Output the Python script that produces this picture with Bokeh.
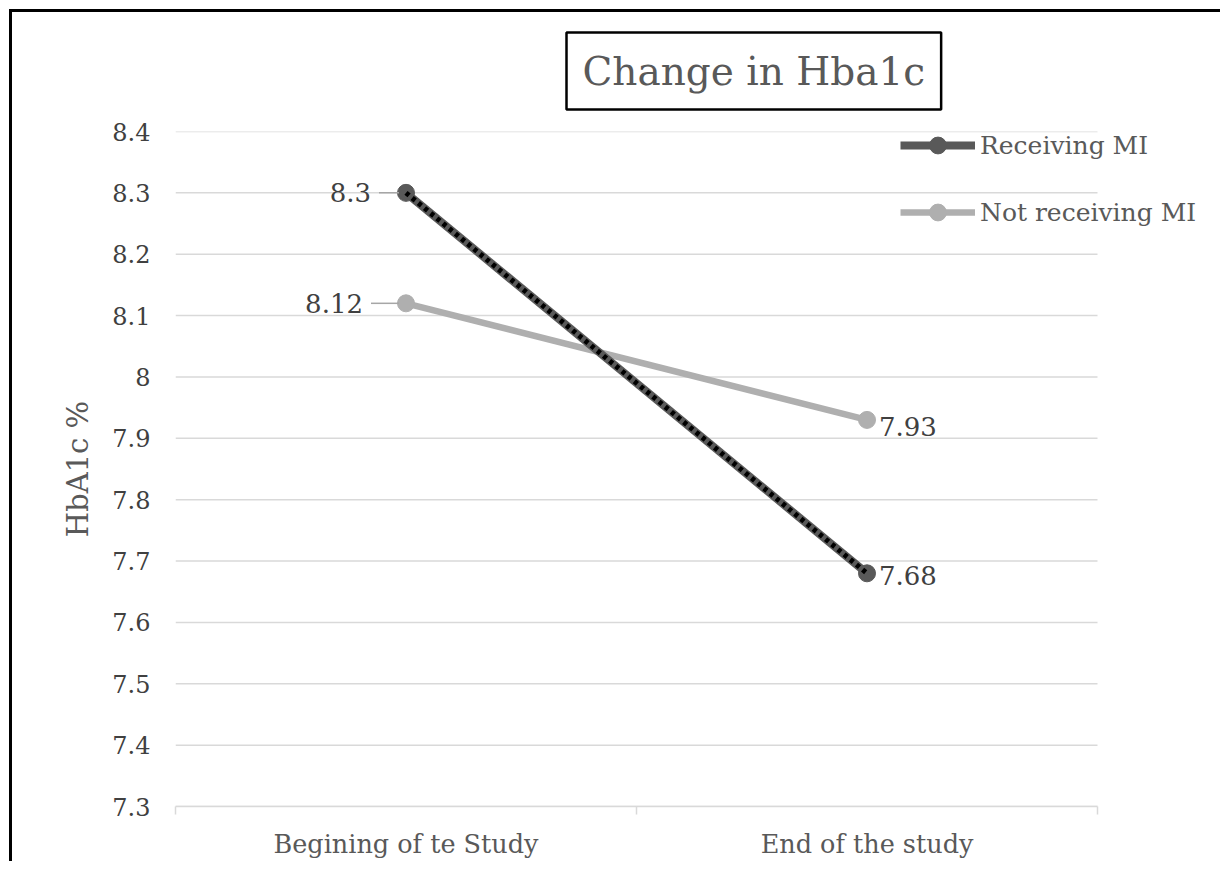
from bokeh.plotting import figure
from bokeh.models import (Range1d, FixedTicker, Legend, LegendItem, ColumnDataSource)
from bokeh.core.properties import value
from bokeh.embed import file_html
from bokeh.resources import INLINE

# ---- data ----
categories = ["Begining of te Study", "End of the study"]
receiving = [8.3, 7.68]
not_receiving = [8.12, 7.93]
series_names = ["Receiving MI", "Not receiving MI"]
y_ticks = [7.3, 7.4, 7.5, 7.6, 7.7, 7.8, 7.9, 8.0, 8.1, 8.2, 8.3, 8.4]
y_tick_labels = ["7.3", "7.4", "7.5", "7.6", "7.7", "7.8", "7.9", "8", "8.1", "8.2", "8.3", "8.4"]
title_text = "Change in Hba1c"
y_title = "HbA1c %"

FONT = "DejaVu Serif"
OFF = 12                # canvas origin inside the framed page (margin + border)
W, H = 1211, 852
ML = 175 - OFF
MT = 131 - OFF
MB = H - (806 - OFF)
MR = 0
n = len(categories)
CAT_PX = 922            # pixel width of the category area
px_per_x = CAT_PX / n
x_end = (W - ML - MR) / px_per_x

xs = [i + 0.5 for i in range(n)]

p = figure(width=W, height=H, output_backend="svg", toolbar_location=None,
           x_range=Range1d(0, x_end), y_range=Range1d(y_ticks[0], y_ticks[-1]),
           min_border_left=ML, min_border_right=MR, min_border_top=MT, min_border_bottom=MB)
p.outline_line_color = None
p.background_fill_color = "white"
p.border_fill_color = "white"
p.styles = {"border-top": "3px solid black", "border-left": "3px solid black",
            "margin-left": "9px", "margin-top": "9px"}

# title in a box
p.title.text = title_text
p.title.align = "left"
p.title.vertical_align = "top"
p.title.offset = 566 - 175
p.title.standoff = 40
p.title.text_font = FONT
p.title.text_font_size = "39px"
p.title.text_font_style = "normal"
p.title.text_color = "#595959"
p.title.border_line_color = "black"
p.title.border_line_width = 2.5
p.title.background_fill_color = "white"
p.title.padding = 16

# axes
p.xaxis.bounds = (0, n)
p.xaxis.ticker = FixedTicker(ticks=xs, minor_ticks=list(range(n + 1)))
p.xaxis.major_label_overrides = {x: c for x, c in zip(xs, categories)}
p.xaxis.axis_line_color = "#d9d9d9"
p.xaxis.axis_line_width = 1.5
p.xaxis.major_tick_line_color = None
p.xaxis.major_tick_out = 0
p.xaxis.major_tick_in = 0
p.xaxis.minor_tick_line_color = "#d9d9d9"
p.xaxis.minor_tick_line_width = 1.5
p.xaxis.minor_tick_out = 8
p.xaxis.minor_tick_in = 0
p.xaxis.major_label_standoff = 14
p.xaxis.major_label_text_font = FONT
p.xaxis.major_label_text_font_size = "25.5px"
p.xaxis.major_label_text_color = "#595959"

p.yaxis.ticker = FixedTicker(ticks=y_ticks)
p.yaxis.major_label_overrides = {t: s for t, s in zip(y_ticks, y_tick_labels)}
p.yaxis.axis_line_color = None
p.yaxis.major_tick_line_color = None
p.yaxis.minor_tick_line_color = None
p.yaxis.major_tick_out = 0
p.yaxis.major_tick_in = 0
p.yaxis.major_label_standoff = 25
p.yaxis.major_label_text_font = FONT
p.yaxis.major_label_text_font_size = "24px"
p.yaxis.major_label_text_color = "#404040"
p.yaxis.axis_label = y_title
p.yaxis.axis_label_text_font = FONT
p.yaxis.axis_label_text_font_style = "normal"
p.yaxis.axis_label_text_font_size = "29px"
p.yaxis.axis_label_text_color = "#595959"
p.yaxis.axis_label_standoff = 14

# horizontal gridlines limited to the category area
p.xgrid.visible = False
p.ygrid.visible = False
p.segment(x0=[0] * len(y_ticks), x1=[n] * len(y_ticks), y0=y_ticks, y1=y_ticks,
          line_color="#d9d9d9", line_width=1.5, level="underlay")

src = ColumnDataSource(dict(x=xs, rec=receiving, notrec=not_receiving))

l_not = p.line("x", "notrec", source=src, line_color="#AFAFAF", line_width=6.5)
c_not = p.scatter("x", "notrec", source=src, size=17, fill_color="#AFAFAF", line_color="#AFAFAF")
l_rec = p.line("x", "rec", source=src, line_color="#595959", line_width=8)
c_rec = p.scatter("x", "rec", source=src, size=17, fill_color="#595959", line_color="#595959")
p.line("x", "rec", source=src, line_color="black", line_width=5, line_dash="4 4")

# data labels
lab_color = "#404040"
left_vals = [receiving[0], not_receiving[0]]
left_offsets = [-35, -43]
for v, off in zip(left_vals, left_offsets):
    p.text(x=[xs[0]], y=[v], text=[f"{v:g}"], x_offset=off, text_align="right",
           text_baseline="middle", text_font=value(FONT), text_font_size="26px",
           text_color=lab_color)
    p.segment(x0=[xs[0] + (off + 8) / px_per_x], x1=[xs[0] - 7 / px_per_x], y0=[v], y1=[v],
              line_color="#a6a6a6", line_width=1.5)
right_vals = [not_receiving[1], receiving[1]]
right_yoff = [7, 2]
for v, yo in zip(right_vals, right_yoff):
    p.text(x=[xs[1]], y=[v], text=[f"{v:g}"], x_offset=12, y_offset=yo, text_align="left",
           text_baseline="middle", text_font=value(FONT), text_font_size="26px",
           text_color=lab_color)

# legend (rows centred at 145 and 212 px in the page)
leg_bottom = 806 - 233
legend = Legend(items=[LegendItem(label=series_names[0], renderers=[l_rec, c_rec]),
                       LegendItem(label=series_names[1], renderers=[l_not, c_not])],
                location=(900 - 175, leg_bottom), orientation="vertical", glyph_width=75,
                glyph_height=42, label_height=20, spacing=25, padding=0, margin=0,
                border_line_color=None, background_fill_alpha=0, label_text_font=FONT,
                label_text_font_size="25px", label_text_color="#595959", label_standoff=5)
p.add_layout(legend)

open("out.html", "w").write(file_html(p, INLINE))
